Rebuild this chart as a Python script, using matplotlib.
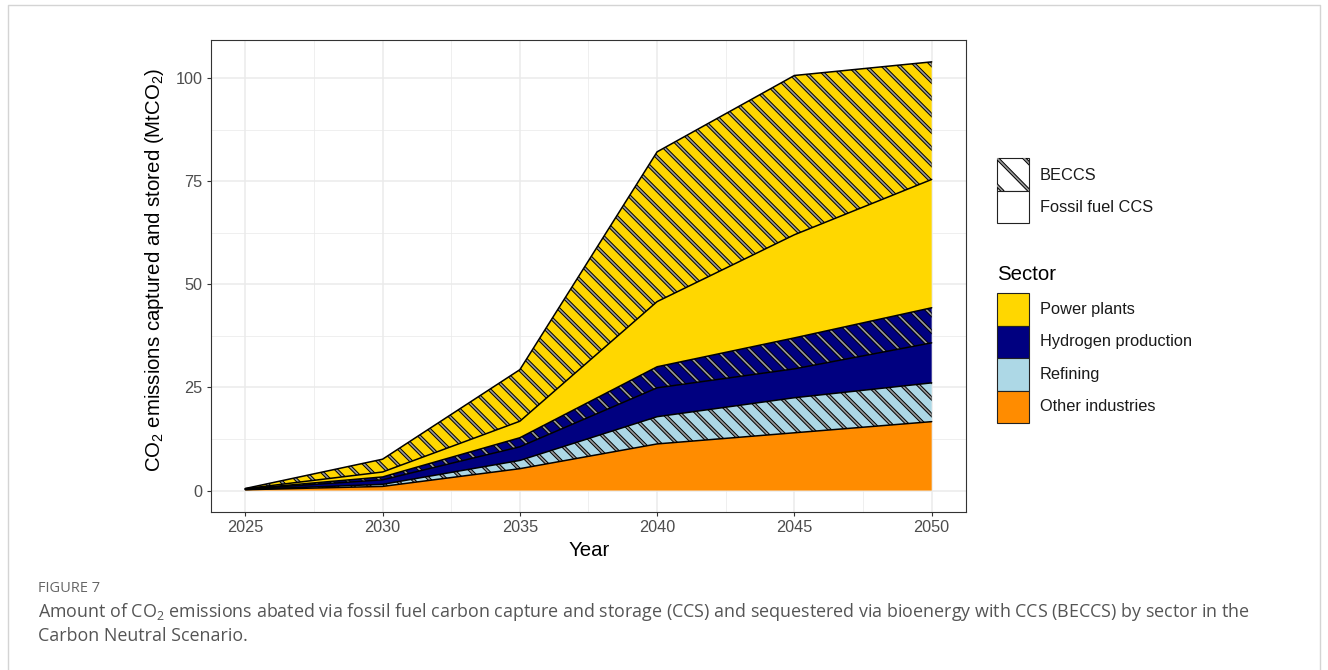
import matplotlib
matplotlib.use('Agg')
import matplotlib.pyplot as plt
from matplotlib.patches import Rectangle
from matplotlib.lines import Line2D
import numpy as np

plt.rcParams['font.family'] = ['Liberation Sans', 'DejaVu Sans']

# Captured / sequestered CO2 by sector (MtCO2), stacked bottom to top
years = [2025, 2030, 2035, 2040, 2045, 2050]
other_fossil = [0.2, 1.0, 5.3, 11.3, 14.0, 16.7]
refining_beccs = [0.05, 0.5, 2.0, 6.6, 8.5, 9.4]
hydrogen_fossil = [0.1, 1.1, 3.3, 7.0, 7.0, 9.7]
hydrogen_beccs = [0.05, 0.7, 2.2, 5.1, 7.5, 8.5]
power_fossil = [0.05, 1.2, 4.0, 15.8, 25.0, 31.1]
power_beccs = [0.05, 3.1, 12.5, 36.3, 38.6, 28.5]

sectors = ['Power plants', 'Hydrogen production', 'Refining', 'Other industries']
sector_colors = {'Power plants': '#FFD700', 'Hydrogen production': '#000080',
                 'Refining': '#ADD8E6', 'Other industries': '#FF8C00'}

layers = [
    (other_fossil, 'Other industries', False),
    (refining_beccs, 'Refining', True),
    (hydrogen_fossil, 'Hydrogen production', False),
    (hydrogen_beccs, 'Hydrogen production', True),
    (power_fossil, 'Power plants', False),
    (power_beccs, 'Power plants', True),
]

STRIPE_EDGE, STRIPE_FILL = 2.6, 1.2
STRIPE_GREY = '#9a9a9a'

W, H = 1328, 670
fig = plt.figure(figsize=(W / 100, H / 100), dpi=100)


def fx(px):
    return px / W


def fy(py):
    return 1 - py / H


def hatched(ax, x, lo, hi, color, lw):
    with plt.rc_context({'hatch.linewidth': lw}):
        coll = ax.fill_between(x, lo, hi, facecolor='none', edgecolor=color,
                               linewidth=0, hatch='\\\\')
    if hasattr(coll, 'set_hatch_linewidth'):
        coll.set_hatch_linewidth(lw)
    return coll


ax = fig.add_axes([fx(211), fy(512), fx(966) - fx(211), fy(40) - fy(512)])

lower = np.zeros(len(years))
tops = []
for values, sector, beccs in layers:
    upper = lower + np.array(values)
    ax.fill_between(years, lower, upper, facecolor=sector_colors[sector],
                    edgecolor='none', linewidth=0, zorder=2)
    if beccs:
        h = hatched(ax, years, lower, upper, 'black', STRIPE_EDGE)
        h.set_zorder(3)
        h = hatched(ax, years, lower, upper, STRIPE_GREY, STRIPE_FILL)
        h.set_zorder(3)
    tops.append(upper)
    lower = upper

for top in tops:
    ax.plot(years, top, color='black', linewidth=1.1, zorder=4,
            solid_joinstyle='round', solid_capstyle='round')

ax.set_xlim(2023.75, 2051.25)
ax.set_ylim(-5.2, 109.2)
ax.set_xticks(years)
ax.set_yticks([0, 25, 50, 75, 100])
ax.set_xticks([2027.5, 2032.5, 2037.5, 2042.5, 2047.5], minor=True)
ax.set_yticks([12.5, 37.5, 62.5, 87.5], minor=True)
ax.set_axisbelow(True)
ax.grid(which='major', color='#EBEBEB', linewidth=1.1, zorder=0)
ax.grid(which='minor', color='#EBEBEB', linewidth=0.55, zorder=0)
ax.tick_params(which='major', direction='out', length=3, width=0.8,
               color='#333333', labelsize=11.7, labelcolor='#4D4D4D', pad=3)
ax.tick_params(which='minor', length=0)
for sp in ax.spines.values():
    sp.set_color('#333333')
    sp.set_linewidth(0.8)

fig.text(fx(155), fy(270), r'CO$\mathregular{_2}$ emissions captured and stored (MtCO$\mathregular{_2}$)',
         rotation=90, ha='center', va='center', fontsize=14.7)
fig.text(fx(589), fy(550), 'Year', ha='center', va='center', fontsize=14.7)

# legend: capture route
key_w, key_h = 32, 32.5


def key_box(x0, y0, face):
    r = Rectangle((fx(x0), fy(y0 + key_h)), key_w / W, key_h / H,
                  transform=fig.transFigure, facecolor=face,
                  edgecolor='#222222', linewidth=0.8, zorder=5)
    fig.add_artist(r)
    return r


box = key_box(997, 158, 'white')
for off in (-27, 0, 27):
    for c, lw in (('black', STRIPE_EDGE), (STRIPE_GREY, STRIPE_FILL)):
        ln = Line2D([fx(997 + off), fx(997 + off + key_w)],
                    [fy(158), fy(158 + key_h)], transform=fig.transFigure,
                    color=c, linewidth=lw, zorder=6)
        ln.set_clip_path(box)
        fig.add_artist(ln)
fig.text(fx(1040), fy(175), 'BECCS', ha='left', va='center', fontsize=11.8,
         color='#1a1a1a')
key_box(997, 190.5, 'white')
fig.text(fx(1040), fy(207), 'Fossil fuel CCS', ha='left', va='center',
         fontsize=11.8, color='#1a1a1a')

# legend: sector
fig.text(fx(997), fy(274), 'Sector', ha='left', va='center', fontsize=14.7)
for i, s in enumerate(sectors):
    y0 = 293 + i * key_h
    key_box(997, y0, sector_colors[s])
    fig.text(fx(1040), fy(y0 + key_h / 2), s, ha='left', va='center',
             fontsize=11.8, color='#1a1a1a')

# page frame and caption
cap_font = ['Open Sans', 'DejaVu Sans']
fig.add_artist(Line2D([fx(8), fx(8), fx(1320), fx(1320)],
                      [0, fy(5), fy(5), 0], transform=fig.transFigure,
                      color='#d4d4d4', linewidth=1.0))
fig.text(fx(38), fy(589), 'FIGURE 7', ha='left', va='center', fontsize=10.5,
         color='#666666', family=cap_font)
fig.text(fx(38), fy(612),
         r'Amount of CO$\mathregular{_2}$ emissions abated via fossil fuel carbon capture and storage (CCS) '
         'and sequestered via bioenergy with CCS (BECCS) by sector in the',
         ha='left', va='center', fontsize=12.9, color='#555555', family=cap_font)
fig.text(fx(38), fy(636), 'Carbon Neutral Scenario.', ha='left', va='center',
         fontsize=12.9, color='#555555', family=cap_font)

fig.savefig('out.png', dpi=100)
